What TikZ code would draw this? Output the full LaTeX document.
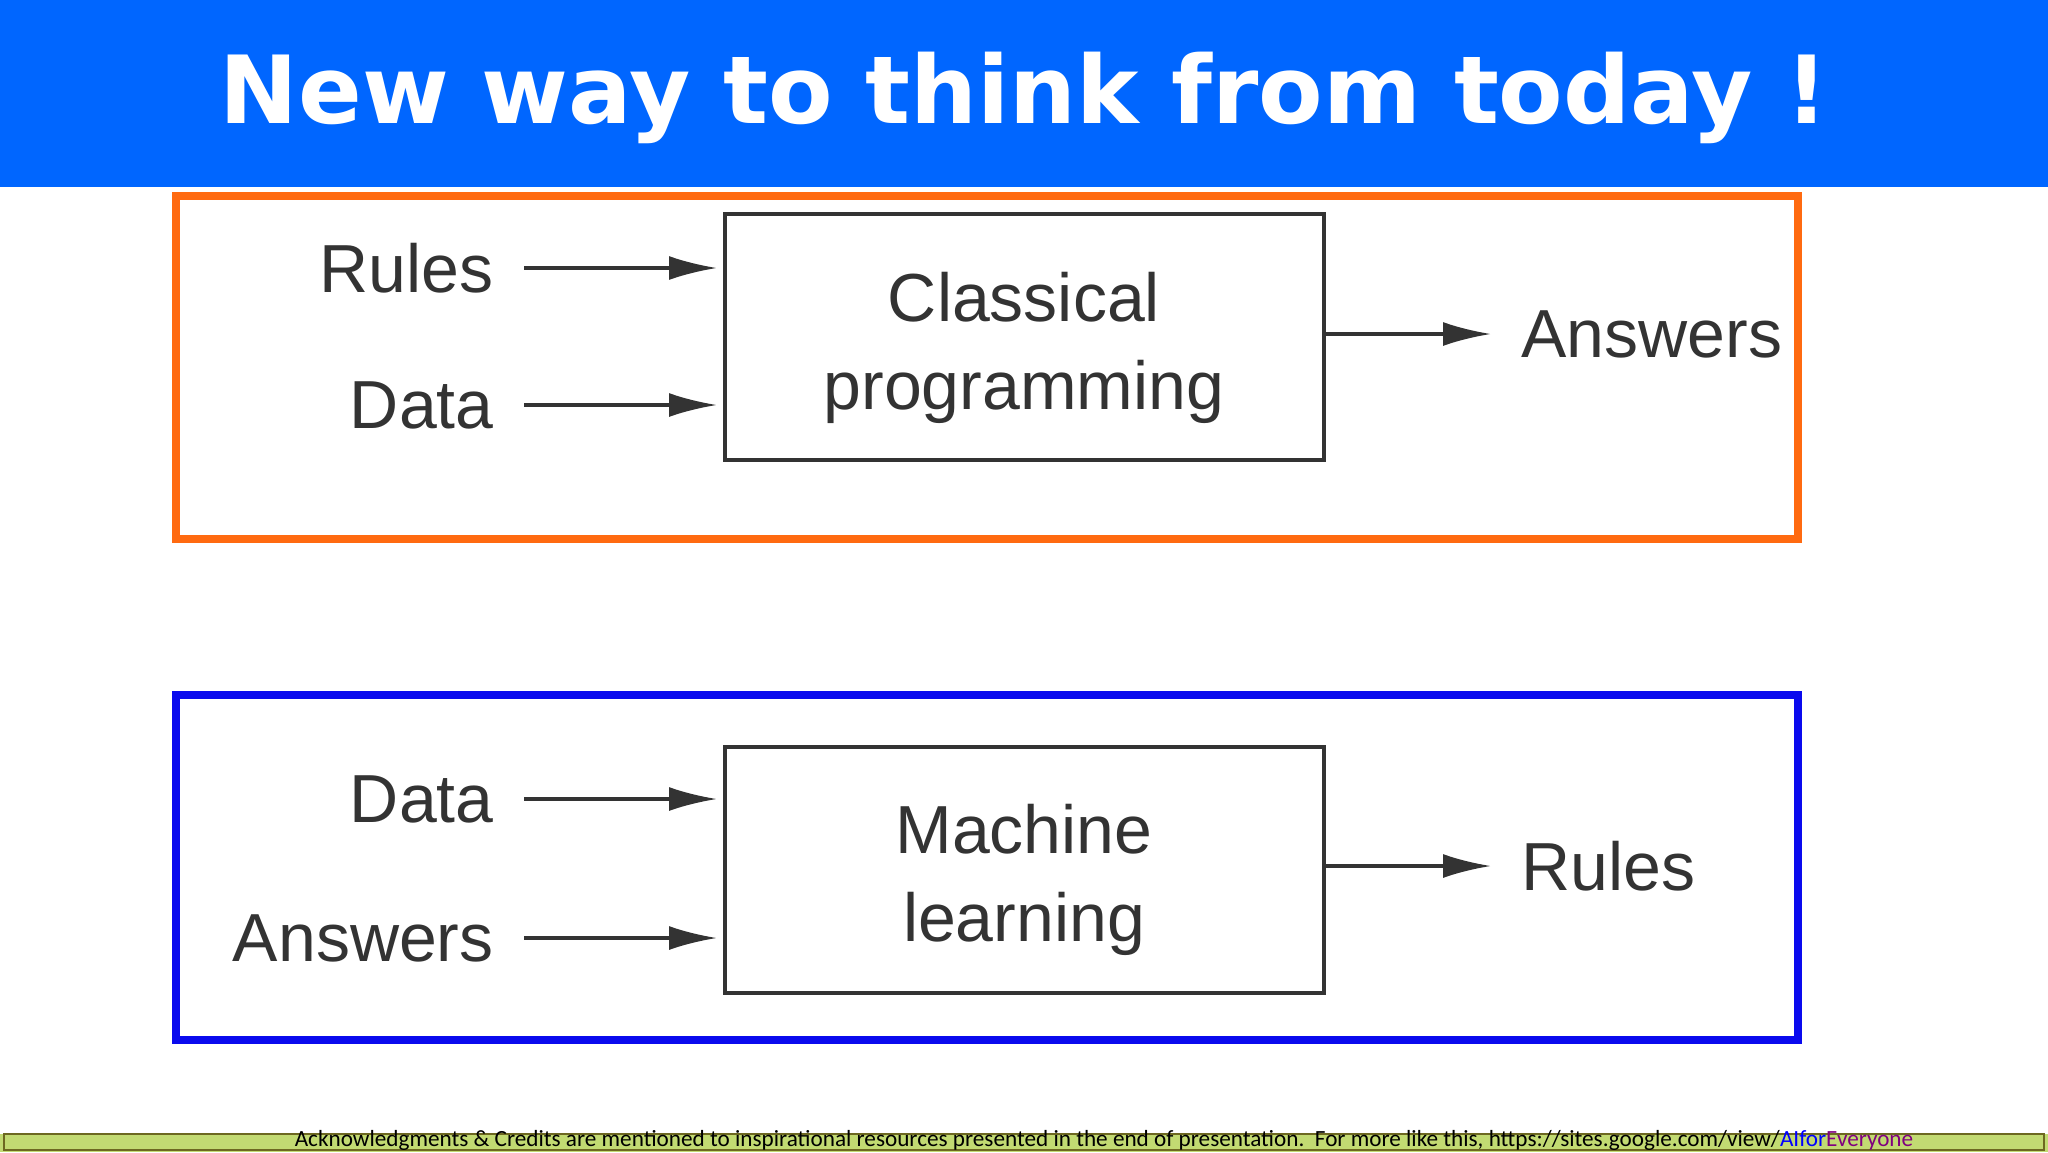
\documentclass[tikz,border=0pt]{standalone}
\usepackage{fontspec}
\setmainfont{Liberation Sans}
\newfontfamily\titlefont{DejaVu Sans}
\newfontfamily\footfont{Carlito}
\usepackage{xcolor}
\usetikzlibrary{arrows.meta}
\definecolor{hdrblue}{HTML}{0066FF}
\definecolor{boxorange}{HTML}{FF6A10}
\definecolor{boxblue}{HTML}{0A0AEE}
\definecolor{txtgrey}{HTML}{333333}
\definecolor{footgreen}{HTML}{C2DA72}
\tikzset{
  lbl/.style={text=txtgrey,font=\fontsize{34}{38}\selectfont,inner sep=0pt},
  proc/.style={draw=txtgrey,line width=2pt},
  flow/.style={draw=txtgrey,line width=1.6pt,-{Latex[length=24pt,width=12pt]}}
}
\begin{document}
\begin{tikzpicture}[x=0.5pt,y=-0.5pt]
\useasboundingbox (0,0) rectangle (2048,1152);
\fill[hdrblue] (0,0) rectangle (2048,187);
\node[text=white,font=\titlefont\bfseries\fontsize{47}{52}\selectfont] (title) at (1024,98) {New way to think from today !};

% top panel
\draw[boxorange,line width=4pt] (176,196) rectangle (1798,539);
\draw[proc] (725,214) rectangle (1324,460);
\node[lbl,font=\fontsize{34}{44}\selectfont,align=center] (cp) at (1024,348) {Classical\\programming};
\coordinate (cpin1) at (725,268);
\coordinate (cpin2) at (725,405);
\coordinate (cpout) at (1324,334);
\node[lbl,anchor=east] (rules1) at (494,268) {Rules};
\node[lbl,anchor=east] (data1) at (494,405) {Data};
\node[lbl,anchor=west] (ans1) at (1521,334) {Answers};
\draw[flow] ([xshift=15pt]rules1.east) -- ([xshift=-4pt]cpin1);
\draw[flow] ([xshift=15pt]data1.east) -- ([xshift=-4pt]cpin2);
\draw[flow] (cpout) -- ([xshift=-15pt]ans1.west);

% bottom panel
\draw[boxblue,line width=4pt] (176,695) rectangle (1798,1040);
\draw[proc] (725,747) rectangle (1324,993);
\node[lbl,font=\fontsize{34}{44}\selectfont,align=center] (ml) at (1024,880) {Machine\\learning};
\coordinate (mlin1) at (725,799);
\coordinate (mlin2) at (725,938);
\coordinate (mlout) at (1324,866);
\node[lbl,anchor=east] (data2) at (494,799) {Data};
\node[lbl,anchor=east] (ans2) at (494,938) {Answers};
\node[lbl,anchor=west] (rules2) at (1521,866) {Rules};
\draw[flow] ([xshift=15pt]data2.east) -- ([xshift=-4pt]mlin1);
\draw[flow] ([xshift=15pt]ans2.east) -- ([xshift=-4pt]mlin2);
\draw[flow] (mlout) -- ([xshift=-15pt]rules2.west);

% footer
\fill[footgreen] (0,1134) rectangle (2048,1152);
\draw[olive!70!black,line width=1pt] (4,1134) rectangle (2044,1150);
\node[font=\footfont\fontsize{11.6}{12}\selectfont,inner sep=0pt] (foot) at (1104,1140) {Acknowledgments \& Credits are mentioned to inspirational resources presented in the end of presentation.\ \ For more like this, https://sites.google.com/view/\textcolor{blue}{AIfor}\textcolor{violet}{Everyone}};
\end{tikzpicture}
\end{document}
